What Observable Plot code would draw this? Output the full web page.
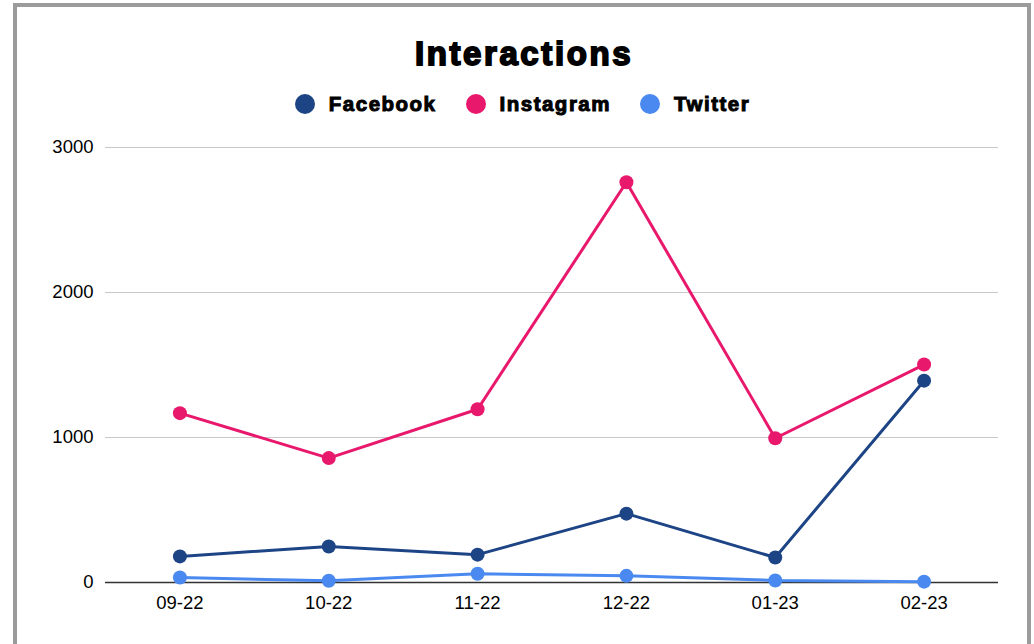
<!DOCTYPE html>
<html><head><meta charset="utf-8">
<script src="https://cdn.jsdelivr.net/npm/d3@7"></script>
<script src="https://cdn.jsdelivr.net/npm/@observablehq/plot@0.6"></script>
<style>
body{margin:0;background:#fff;width:1034px;height:644px;overflow:hidden;position:relative;font-family:"Liberation Sans",Arial,sans-serif;}
#frame{position:absolute;left:13px;top:3px;width:1010px;height:700px;border:4px solid #9b9b9b;box-sizing:content-box;}
#title{position:absolute;left:0;width:1048px;top:35px;text-align:center;font-family:"Liberation Sans",Arial,sans-serif;font-weight:bold;font-size:33px;color:#000;-webkit-text-stroke:1.8px #000;letter-spacing:2.6px;}
#legend{position:absolute;left:0;width:1045px;top:92px;display:flex;justify-content:center;gap:29px;font-family:"Liberation Sans",Arial,sans-serif;font-weight:bold;font-size:20.5px;letter-spacing:1.5px;-webkit-text-stroke:1px #000;}
#legend span{display:flex;align-items:center;gap:14px;}
#legend i{display:inline-block;width:20px;height:20px;border-radius:50%;-webkit-text-stroke:0;}
#chart{position:absolute;left:0;top:130px;}
</style></head><body>
<div id="frame"></div>
<div id="title">Interactions</div>
<div id="legend"></div>
<div id="chart"></div>
<script>
const months = ["09-22","10-22","11-22","12-22","01-23","02-23"];
const seriesNames = ["Facebook","Instagram","Twitter"];
const seriesColors = ["#1d4485","#e8186c","#4a8af0"];
const facebook = [180, 248, 192, 475, 172, 1392];
const instagram = [1168, 858, 1195, 2760, 995, 1503];
const twitter = [34, 12, 60, 46, 14, 6];
const yTicks = [0, 1000, 2000, 3000];

const valuesBySeries = [facebook, instagram, twitter];
const data = [];
seriesNames.forEach((s, i) => months.forEach((m, j) => data.push({series: s, month: m, value: valuesBySeries[i][j]})));

const legend = document.getElementById("legend");
seriesNames.forEach((s, i) => {
  const sp = document.createElement("span");
  sp.innerHTML = `<i style="background:${seriesColors[i]}"></i>${s}`;
  legend.appendChild(sp);
});

const chart = Plot.plot({
  width: 1034, height: 514,
  marginLeft: 105, marginRight: 36, marginTop: 17, marginBottom: 62,
  style: {fontFamily: "'Liberation Sans', Arial, sans-serif", fontSize: "18.5px", background: "transparent", color: "#000"},
  x: {type: "point", domain: months, padding: 0.5, round: false, label: null},
  y: {domain: [0, 3000], label: null},
  color: {domain: seriesNames, range: seriesColors},
  marks: [
    Plot.gridY(yTicks.filter(d => d > 0), {stroke: "#c8c8c8", strokeOpacity: 1, strokeWidth: 1.2}),
    Plot.ruleY([0], {stroke: "#333", strokeWidth: 1.3}),
    Plot.line(data, {x: "month", y: "value", z: "series", stroke: "series", strokeWidth: 3}),
    Plot.dot(data, {x: "month", y: "value", fill: "series", r: 7}),
    Plot.axisY({ticks: yTicks, tickFormat: d3.format("d"), tickSize: 0, tickPadding: 12, label: null}),
    Plot.axisX({tickSize: 0, tickPadding: 13, label: null})
  ]
});
document.getElementById("chart").appendChild(chart);
</script>
</body></html>
